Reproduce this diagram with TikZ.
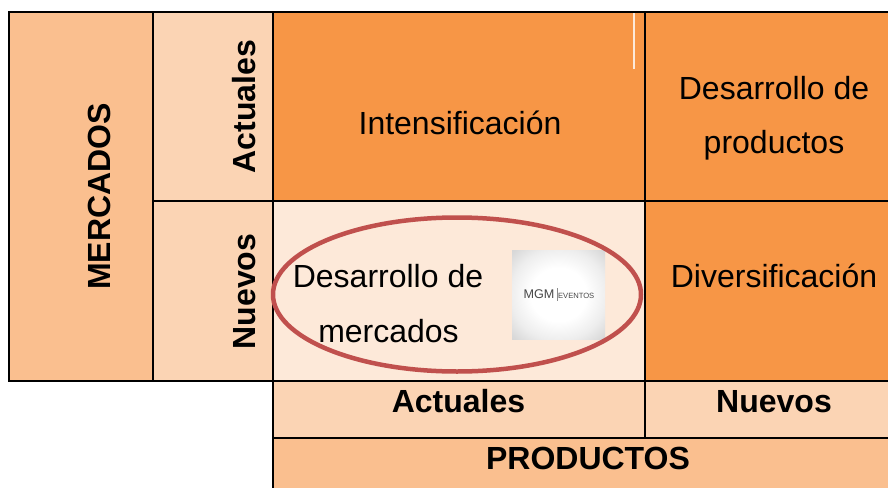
\documentclass[tikz,border=0pt]{standalone}
\usepackage{fontspec}
\setmainfont{Liberation Sans}
\definecolor{cdark}{HTML}{F79646}
\definecolor{cmain}{HTML}{FABF8F}
\definecolor{cmid}{HTML}{FBD4B4}
\definecolor{clight}{HTML}{FDE9D9}
\definecolor{cring}{HTML}{C0504D}
\tikzset{
  cell/.style={draw=black,line width=2pt,anchor=north west,inner sep=0pt,outer sep=0pt},
  txt/.style={anchor=base,inner sep=0pt,text=black,font=\fontsize{32}{38}\selectfont},
  btxt/.style={txt,font=\fontsize{32}{38}\selectfont\bfseries},
  vtxt/.style={btxt,rotate=90},
  logotxt/.style={anchor=base,inner sep=0pt,text=black!72}
}
\pgfdeclareradialshading{logoshade}{\pgfpoint{0bp}{0bp}}{
  color(0bp)=(white); color(15bp)=(white); color(26bp)=(black!7); color(34bp)=(black!15); color(50bp)=(black!24)}
\begin{document}
\begin{tikzpicture}[x=1pt,y=-1pt]
\useasboundingbox (0,0) rectangle (888,487);
\clip (0,0) rectangle (888,487);
% cells
\node[cell,fill=cmain,minimum width=144pt,minimum height=368.5pt] (mercados) at (9,12.5) {};
\node[cell,fill=cmid,minimum width=120pt,minimum height=188pt] (mact) at (153,12.5) {};
\node[cell,fill=cmid,minimum width=120pt,minimum height=180.5pt] (mnue) at (153,200.5) {};
\node[cell,fill=cdark,minimum width=372pt,minimum height=188pt] (int) at (273,12.5) {};
\node[cell,fill=cdark,minimum width=260pt,minimum height=188pt] (dprod) at (645,12.5) {};
\node[cell,fill=clight,minimum width=372pt,minimum height=180.5pt] (dmer) at (273,200.5) {};
\node[cell,fill=cdark,minimum width=260pt,minimum height=180.5pt] (div) at (645,200.5) {};
\node[cell,fill=cmid,minimum width=372pt,minimum height=56.5pt] (pact) at (273,381) {};
\node[cell,fill=cmid,minimum width=260pt,minimum height=56.5pt] (pnue) at (645,381) {};
\node[cell,fill=cmain,minimum width=632pt,minimum height=70pt] (prod) at (273,437.5) {};
% white stroke
\coordinate (wa) at (634,13.5);
\coordinate (wb) at (634,69);
\draw[draw=clight,line width=1.6pt] (wa) -- (wb);
% logo
\node[anchor=north west,inner sep=0pt,outer sep=0pt,minimum width=93pt,minimum height=89pt,shading=logoshade] (logo) at (512,250) {};
\node[logotxt,font=\fontsize{12.6}{13}\selectfont] (mgm) at (539,298.2) {MGM};
\node[logotxt,font=\fontsize{7.6}{9}\selectfont] (ev) at (576.2,298) {EVENTOS};
\coordinate (ba) at (557.5,288);
\coordinate (bb) at (557.5,301);
\draw[black!45,line width=.6pt] (ba) -- (bb);
% ring
\draw[cring,line width=4.5pt] (457,294.5) ellipse (184pt and 77pt);
% labels
\node[txt] (lint) at (460,134) {Intensificación};
\node[txt] (ldp1) at (774,99) {Desarrollo de};
\node[txt] (ldp2) at (774,153) {productos};
\node[txt] (ldiv) at (774,287) {Diversificación};
\node[txt] (ldm1) at (388,287) {Desarrollo de};
\node[txt] (ldm2) at (388.5,342) {mercados};
\node[btxt] (lpa) at (458.5,412) {Actuales};
\node[btxt] (lpn) at (774,412) {Nuevos};
\node[btxt] (lpr) at (588,469) {PRODUCTOS};
\node[vtxt] (lma) at (255,106.5) {Actuales};
\node[vtxt] (lmn) at (255,291.5) {Nuevos};
\node[vtxt] (lme) at (110,196.5) {MERCADOS};
\end{tikzpicture}
\end{document}
